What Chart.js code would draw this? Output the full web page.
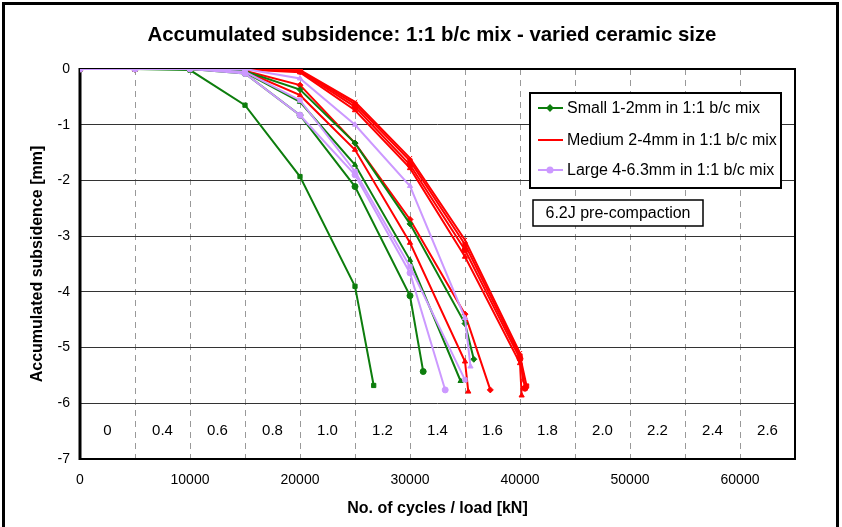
<!DOCTYPE html>
<html>
<head>
<meta charset="utf-8">
<script src="https://cdn.jsdelivr.net/npm/chart.js@4.4.1/dist/chart.umd.min.js"></script>
<style>
  html, body { margin: 0; padding: 0; background: #fff; }
  #wrap { position: relative; width: 842px; height: 527px; overflow: hidden; }
  #frame { position: absolute; left: 2px; top: 2px; width: 831px; height: 600px; border: 3px solid #000; }
  #chartSubsidence { position: absolute; left: 0; top: 0; }
</style>
</head>
<body>
<div id="wrap">
  <div id="frame"></div>
  <canvas id="chartSubsidence" width="842" height="527"></canvas>
</div>
<script>
// series: no. of cycles (x) and accumulated subsidence in mm (y)
var smallA_x = [0, 5000, 10000, 15000, 20000, 25000, 26700];
var smallA_y = [0, 0, -0.02, -0.65, -1.93, -3.9, -5.68];
var smallB_x = [0, 5000, 10000, 15000, 20000, 25000, 30000, 35000, 35800];
var smallB_y = [0, 0, 0, -0.04, -0.37, -1.33, -2.78, -4.57, -5.21];
var smallC_x = [0, 5000, 10000, 15000, 20000, 25000, 30000, 34600];
var smallC_y = [0, 0, 0, -0.06, -0.59, -1.72, -3.43, -5.6];
var smallD_x = [0, 5000, 10000, 15000, 20000, 25000, 30000, 31200];
var smallD_y = [0, 0, 0, -0.08, -0.83, -2.11, -4.07, -5.43];

var mediumA_x = [0, 5000, 10000, 15000, 20000, 25000, 30000, 35000, 37300];
var mediumA_y = [0, 0, 0, -0.03, -0.29, -1.33, -2.7, -4.4, -5.76];
var mediumB_x = [0, 5000, 10000, 15000, 20000, 25000, 30000, 35000, 35300];
var mediumB_y = [0, 0, 0, -0.04, -0.47, -1.45, -3.12, -5.25, -5.79];
var mediumC_x = [0, 5000, 10000, 15000, 20000, 25000, 30000, 35000, 40000, 40300];
var mediumC_y = [0, 0, 0, 0, -0.02, -0.59, -1.6, -3.07, -5.1, -5.6];
var mediumD_x = [0, 5000, 10000, 15000, 20000, 25000, 30000, 35000, 40000, 40600];
var mediumD_y = [0, 0, 0, 0, -0.03, -0.63, -1.65, -3.15, -5.15, -5.69];
var mediumE_x = [0, 5000, 10000, 15000, 20000, 25000, 30000, 35000, 40000, 40450];
var mediumE_y = [0, 0, 0, 0, -0.04, -0.68, -1.72, -3.25, -5.2, -5.73];
var mediumF_x = [0, 5000, 10000, 15000, 20000, 25000, 30000, 35000, 40000, 40150];
var mediumF_y = [0, 0, 0, -0.01, -0.06, -0.74, -1.78, -3.37, -5.28, -5.86];

var largeA_x = [0, 5000, 10000, 15000, 20000, 25000, 30000, 35000, 35500];
var largeA_y = [0, 0, 0, 0, -0.17, -1.0, -2.1, -4.47, -5.34];
var largeB_x = [0, 5000, 10000, 15000, 20000, 25000, 30000, 35000];
var largeB_y = [0, 0, 0, -0.05, -0.56, -1.84, -3.55, -5.58];
var largeC_x = [0, 5000, 10000, 15000, 20000, 25000, 30000, 33200];
var largeC_y = [0, 0, 0, -0.08, -0.83, -1.9, -3.66, -5.76];

// load steps written along the bottom band of the plot
var loadLabels = ['0', '0.4', '0.6', '0.8', '1.0', '1.2', '1.4', '1.6', '1.8', '2.0', '2.2', '2.4', '2.6'];
var loadLabelCycles = [2500, 7500, 12500, 17500, 22500, 27500, 32500, 37500, 42500, 47500, 52500, 57500, 62500];

var titleText = 'Accumulated subsidence: 1:1 b/c mix - varied ceramic size';
var legendNames = ['Small 1-2mm in 1:1 b/c mix', 'Medium 2-4mm in 1:1 b/c mix', 'Large 4-6.3mm in 1:1 b/c mix'];
var noteText = '6.2J pre-compaction';

var GREEN = '#0d7d0d';
var RED = '#ff0000';
var PURPLE = '#cc99ff';
var FONT = "'Liberation Sans', Arial, sans-serif";

function pts(xs, ys) {
  return xs.map(function (x, i) { return { x: x, y: ys[i] }; });
}

function series(xs, ys, color, marker) {
  return {
    data: pts(xs, ys),
    showLine: true,
    borderColor: color,
    backgroundColor: color,
    borderWidth: 2,
    pointStyle: marker,
    pointRadius: 3,
    pointBorderWidth: 1,
    tension: 0
  };
}

var datasets = [
  series(largeA_x, largeA_y, PURPLE, 'triangle'),
  series(largeB_x, largeB_y, PURPLE, 'rect'),
  series(largeC_x, largeC_y, PURPLE, 'circle'),
  series(smallA_x, smallA_y, GREEN, 'rect'),
  series(smallB_x, smallB_y, GREEN, 'rectRot'),
  series(smallC_x, smallC_y, GREEN, 'triangle'),
  series(smallD_x, smallD_y, GREEN, 'circle'),
  series(mediumA_x, mediumA_y, RED, 'rectRot'),
  series(mediumB_x, mediumB_y, RED, 'triangle'),
  series(mediumC_x, mediumC_y, RED, 'crossRot'),
  series(mediumD_x, mediumD_y, RED, 'rect'),
  series(mediumE_x, mediumE_y, RED, 'circle'),
  series(mediumF_x, mediumF_y, RED, 'triangle')
];

var overlay = {
  id: 'overlay',
  beforeDatasetsDraw: function (chart) {
    var ctx = chart.ctx, a = chart.chartArea;
    var xs = chart.scales.x, ys = chart.scales.y;
    ctx.save();
    // plot frame
    ctx.strokeStyle = '#000';
    ctx.lineWidth = 2;
    ctx.strokeRect(a.left, a.top, a.right - a.left, a.bottom - a.top);
    ctx.lineWidth = 3;
    ctx.beginPath();
    ctx.moveTo(a.left, a.top - 1);
    ctx.lineTo(a.left, a.bottom + 1);
    ctx.stroke();
    // load labels
    ctx.fillStyle = '#000';
    ctx.font = '15px ' + FONT;
    ctx.textAlign = 'center';
    ctx.textBaseline = 'middle';
    loadLabels.forEach(function (t, i) {
      ctx.fillText(t, xs.getPixelForValue(loadLabelCycles[i]), ys.getPixelForValue(-6.5));
    });
    ctx.restore();
  },
  afterDraw: function (chart) {
    var ctx = chart.ctx;
    var colors = [GREEN, RED, PURPLE];
    var markers = ['rectRot', 'line', 'circle'];
    ctx.save();
    // title (Excel centres it a bit right of the canvas centre)
    ctx.fillStyle = '#000';
    ctx.font = 'bold 20.4px ' + FONT;
    ctx.textAlign = 'center';
    ctx.textBaseline = 'middle';
    ctx.fillText(titleText, 432, 35);
    // legend box
    ctx.fillStyle = '#fff';
    ctx.fillRect(530, 93, 251, 95);
    ctx.strokeStyle = '#000';
    ctx.lineWidth = 2;
    ctx.strokeRect(530, 93, 251, 95);
    ctx.font = '16px ' + FONT;
    ctx.textAlign = 'left';
    legendNames.forEach(function (name, i) {
      var y = [108, 140, 170][i];
      ctx.strokeStyle = colors[i];
      ctx.lineWidth = 2;
      ctx.beginPath();
      ctx.moveTo(538, y);
      ctx.lineTo(563, y);
      ctx.stroke();
      if (markers[i] !== 'line') {
        ctx.fillStyle = colors[i];
        Chart.helpers.drawPoint(ctx, { pointStyle: markers[i], radius: 2.5, borderWidth: 1 }, 550, y);
      }
      ctx.fillStyle = '#000';
      ctx.fillText(name, 567, y + 1);
    });
    // note box
    ctx.fillStyle = '#fff';
    ctx.fillRect(533, 200, 170, 26);
    ctx.strokeStyle = '#000';
    ctx.lineWidth = 1.5;
    ctx.strokeRect(533, 200, 170, 26);
    ctx.fillStyle = '#000';
    ctx.textAlign = 'center';
    ctx.fillText(noteText, 618, 214);
    ctx.restore();
  }
};

var ctx = document.getElementById('chartSubsidence');
Chart.defaults.font.family = FONT;
Chart.defaults.color = '#000';

new Chart(ctx, {
  type: 'scatter',
  data: { datasets: datasets },
  plugins: [overlay],
  options: {
    responsive: false,
    animation: false,
    layout: { padding: { left: 20, right: 47, top: 69, bottom: 0 } },
    plugins: {
      legend: { display: false },
      tooltip: { enabled: false },
      title: { display: false }
    },
    scales: {
      x: {
        type: 'linear',
        min: 0,
        max: 65000,
        afterFit: function (s) { s.height = 68; },
        ticks: {
          stepSize: 5000,
          autoSkip: false,
          maxRotation: 0,
          padding: 13,
          font: { size: 14 },
          callback: function (v) { return v % 10000 === 0 ? String(v) : ''; }
        },
        grid: { color: '#999', lineWidth: 1, drawTicks: false },
        border: { display: false, dash: [6, 5] },
        title: {
          display: true,
          text: 'No. of cycles / load [kN]',
          font: { size: 16, weight: 'bold' },
          padding: { top: 0, bottom: 9 }
        }
      },
      y: {
        min: -7,
        max: 0,
        afterFit: function (s) { s.width = 60; },
        ticks: { stepSize: 1, padding: 10, font: { size: 14 } },
        grid: { color: '#333', lineWidth: 1, drawTicks: false },
        border: { display: false },
        title: {
          display: true,
          text: 'Accumulated subsidence [mm]',
          font: { size: 16, weight: 'bold' },
          padding: { top: 8, bottom: 0 }
        }
      }
    }
  }
});
</script>
</body>
</html>
